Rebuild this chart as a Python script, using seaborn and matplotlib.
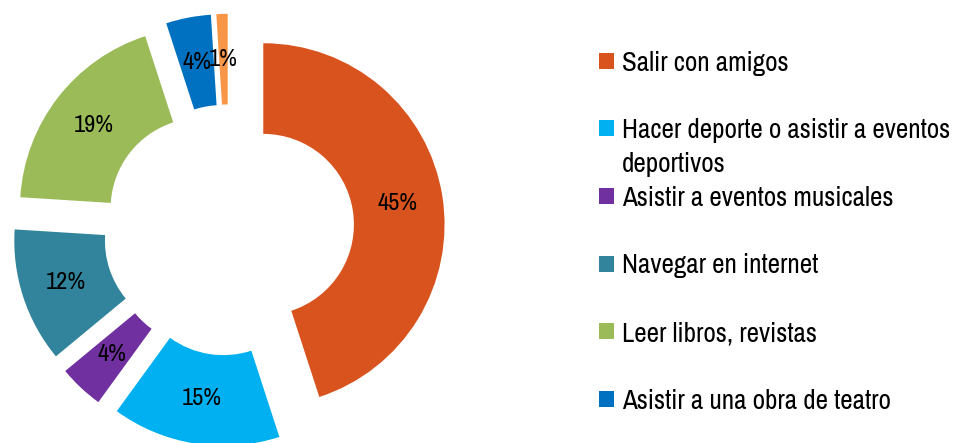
import matplotlib
matplotlib.use("Agg")
import matplotlib.pyplot as plt
from matplotlib.patches import Rectangle
from matplotlib import font_manager
from matplotlib.font_manager import FontProperties
import seaborn as sns

# ---- data ----
categories = [
    "Salir con amigos",
    "Hacer deporte o asistir a eventos\ndeportivos",
    "Asistir a eventos musicales",
    "Navegar en internet",
    "Leer libros, revistas",
    "Asistir a una obra de teatro",
    "Otros",
]
values = [45, 15, 4, 12, 19, 4, 1]
colors = ["#D9531E", "#00B0F0", "#7030A0", "#31849B", "#9BBB59", "#0070C0", "#F79646"]
legend_count = 6  # entries visible in the reference legend

sns.set_theme(style="white")
plt.rcParams["font.family"] = ["DejaVu Sans"]

# pick a condensed / narrow face if one is installed
cand = None
for f in font_manager.fontManager.ttflist:
    low = (f.name + " " + f.fname).lower()
    if ("narrow" in low or "condensed" in low) and f.weight in (400, "normal", "regular") \
            and f.style == "normal" and "bold" not in low and "light" not in low \
            and "oblique" not in low and "italic" not in low:
        cand = f.fname
        if "narrow" in low:
            break
fp = FontProperties(fname=cand) if cand else FontProperties(family="DejaVu Sans")

W, H = 965, 443
fig = plt.figure(figsize=(W / 100, H / 100), dpi=100)
ax = fig.add_axes([0, 0, 1, 1])
renderer = fig.canvas.get_renderer()


def fit_size(text, target_px, max_size):
    t = fig.text(0, 0, text, fontproperties=fp, fontsize=max_size)
    w = t.get_window_extent(renderer).width
    t.remove()
    return min(max_size, max_size * target_px / w)


pct_size = fit_size("45%", 40, 17.5)
leg_size = fit_size("Salir con amigos", 167, 19.7)

scale = 181.3
cx, cy = 228.8, 230.0
wedges, texts, autotexts = ax.pie(
    values,
    colors=colors,
    startangle=90,
    counterclock=False,
    radius=1.0,
    explode=[0.1925] * len(values),
    wedgeprops=dict(width=0.5, linewidth=0),
    autopct=lambda p: f"{p:.0f}%",
    pctdistance=0.75,
    textprops=dict(color="black"),
)
for t in autotexts:
    t.set_fontproperties(fp)
    t.set_fontsize(pct_size)
ax.set_xlim(-cx / scale, (W - cx) / scale)
ax.set_ylim(-(H - cy) / scale, cy / scale)
ax.set_aspect("auto")
ax.axis("off")

# ---- legend (manual layout) ----
def fx(x):
    return x / W


def fy(y):
    return 1 - y / H


base0, step, line_gap = 70.7, 67.6, 34
for i in range(legend_count):
    base = base0 + step * i
    fig.add_artist(Rectangle((fx(599), fy(base - 2)), 15 / W, 16 / H,
                             transform=fig.transFigure, facecolor=colors[i],
                             edgecolor="none"))
    for j, line in enumerate(categories[i].split("\n")):
        fig.text(fx(622), fy(base + j * line_gap), line, fontproperties=fp,
                 fontsize=leg_size, color="black", ha="left", va="baseline")

fig.savefig("out.png", dpi=100, facecolor="white")
